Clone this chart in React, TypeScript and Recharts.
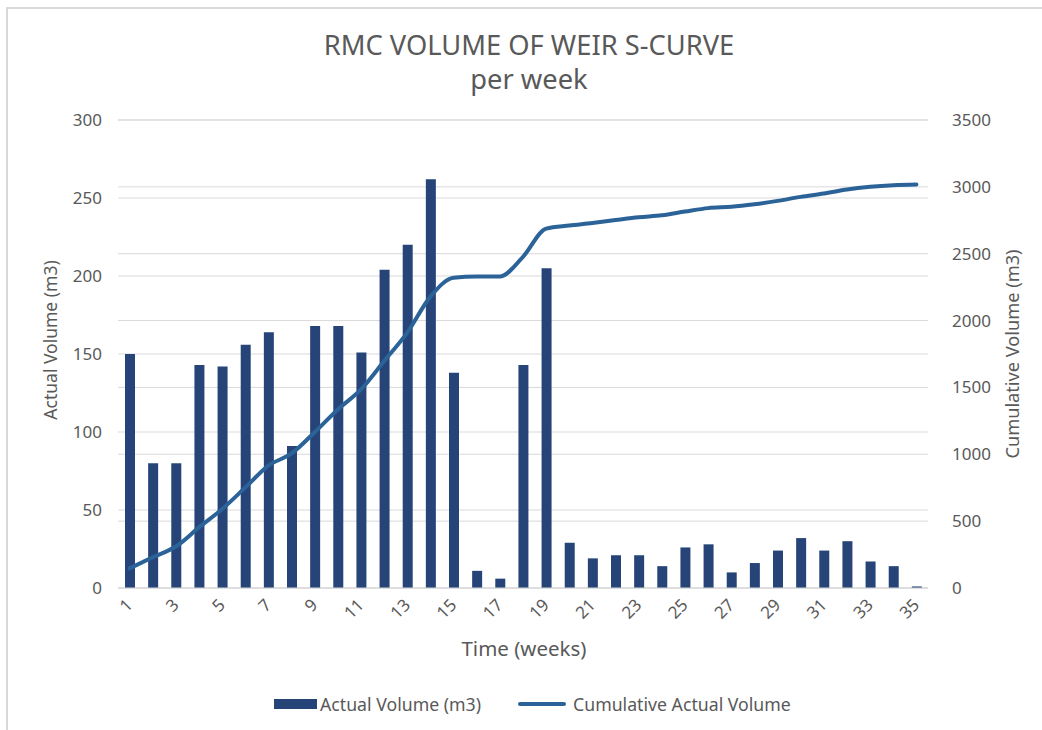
import React from "react"
import { Bar, CartesianGrid, ComposedChart, Legend, Line, XAxis, YAxis } from "recharts"

const weeks = [
  "1", "2", "3", "4", "5", "6", "7", "8", "9", "10", "11", "12", "13", "14", "15", "16", "17", "18",
  "19", "20", "21", "22", "23", "24", "25", "26", "27", "28", "29", "30", "31", "32", "33", "34", "35",
]

const actualVolume = [
  150, 80, 80, 143, 142, 156, 164, 91, 168, 168, 151, 204, 220, 262, 138, 11, 6, 143,
  205, 29, 19, 21, 21, 14, 26, 28, 10, 16, 24, 32, 24, 30, 17, 14, 1,
]

const cumulativeVolume = [
  147, 230, 310, 453, 590, 751, 915, 1006, 1165, 1335, 1485, 1697, 1910, 2179, 2320, 2330, 2330, 2477,
  2688, 2711, 2730, 2752, 2773, 2787, 2815, 2841, 2851, 2870, 2895, 2925, 2950, 2980, 3000, 3012, 3017,
]

const leftTicks = [0, 50, 100, 150, 200, 250, 300]
const rightTicks = [0, 500, 1000, 1500, 2000, 2500, 3000, 3500]

const data = weeks.map((week, i) => ({
  week,
  actual: actualVolume[i],
  cumulative: cumulativeVolume[i],
}))

const FONT = "'Noto Sans', 'Open Sans', sans-serif"
const TEXT = "#595959"
const GRID = "#D9D9D9"
const BAR = "#264478"
const LINE = "#2B6398"

const XTick = (props: any) => {
  const { x, y, payload } = props
  return (
    <g transform={`translate(${x + 4},${y + 10}) rotate(-45)`}>
      <text textAnchor="end" fill={TEXT} fontSize={17} fontFamily={FONT}>
        {payload.value}
      </text>
    </g>
  )
}

const LegendContent = () => (
  <div style={{ display: "flex", alignItems: "center", fontFamily: FONT, fontSize: 17.7, color: TEXT, whiteSpace: "nowrap" }}>
    <span style={{ display: "inline-block", width: 43, height: 10, background: BAR, marginRight: 3 }} />
    <span>Actual Volume (m3)</span>
    <span style={{ display: "inline-block", width: 48, height: 4, borderRadius: 2, background: LINE, marginLeft: 37, marginRight: 7 }} />
    <span>Cumulative Actual Volume</span>
  </div>
)

export default function App() {
  return (
    <div style={{ position: "absolute", left: 0, top: 0, width: 1042, height: 730, overflow: "hidden", background: "#fff" }}>
      <div style={{ position: "absolute", left: 6, top: 7, width: 1200, height: 900, borderTop: `2px solid ${GRID}`, borderLeft: `2px solid ${GRID}` }} />
      <ComposedChart
        width={1042}
        height={730}
        data={data}
        margin={{ top: 120, right: 0, bottom: 82, left: 0 }}
        style={{ position: "absolute", left: 0, top: 0 }}
      >
        <CartesianGrid yAxisId="left" vertical={false} stroke={GRID} />
        <CartesianGrid yAxisId="right" vertical={false} stroke={GRID} />
        <XAxis
          dataKey="week"
          interval={1}
          height={60}
          tickLine={false}
          axisLine={{ stroke: GRID }}
          tick={<XTick />}
        />
        <YAxis
          yAxisId="left"
          width={118}
          domain={[0, 300]}
          ticks={leftTicks}
          tickLine={false}
          axisLine={false}
          tickMargin={10}
          tick={{ fill: TEXT, fontSize: 17, fontFamily: FONT }}
        />
        <YAxis
          yAxisId="right"
          orientation="right"
          width={114}
          domain={[0, 3500]}
          ticks={rightTicks}
          tickLine={false}
          axisLine={false}
          tickMargin={18}
          tick={{ fill: TEXT, fontSize: 17, fontFamily: FONT, textAnchor: "start" }}
        />
        <Bar yAxisId="left" dataKey="actual" name="Actual Volume (m3)" fill={BAR} barSize={10} isAnimationActive={false} />
        <Line
          yAxisId="right"
          type="monotone"
          dataKey="cumulative"
          name="Cumulative Actual Volume"
          stroke={LINE}
          strokeWidth={4}
          strokeLinecap="round"
          dot={false}
          activeDot={false}
          isAnimationActive={false}
        />
        <Legend
          layout="horizontal"
          verticalAlign="middle"
          align="center"
          content={<LegendContent />}
          wrapperStyle={{ left: 274, top: 692, width: 600, height: 26 }}
        />
      </ComposedChart>
      <svg width={1042} height={730} style={{ position: "absolute", left: 0, top: 0, pointerEvents: "none" }}>
        <g fontFamily={FONT} fill={TEXT}>
          <text x={529} y={55} textAnchor="middle" fontSize={27.3}>RMC VOLUME OF WEIR S-CURVE</text>
          <text x={529} y={89} textAnchor="middle" fontSize={27.3}>per week</text>
          <text x={524} y={656} textAnchor="middle" fontSize={20.5}>Time (weeks)</text>
          <text transform="translate(57,340) rotate(-90)" textAnchor="middle" fontSize={17.5}>Actual Volume (m3)</text>
          <text transform="translate(1019,354) rotate(-90)" textAnchor="middle" fontSize={18.2}>Cumulative Volume (m3)</text>
        </g>
      </svg>
    </div>
  )
}
